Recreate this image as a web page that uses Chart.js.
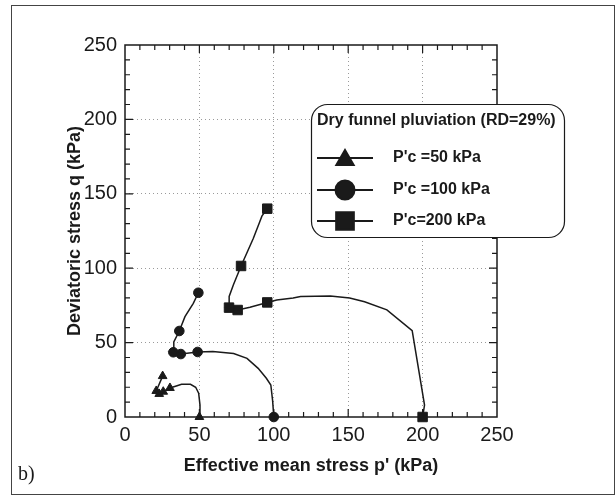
<!DOCTYPE html>
<html>
<head>
<meta charset="utf-8">
<script src="https://cdn.jsdelivr.net/npm/chart.js@4.4.0/dist/chart.umd.min.js"></script>
<style>
  html, body { margin: 0; padding: 0; background: #fff; }
  #wrap { width: 616px; height: 495px; position: relative; }
</style>
</head>
<body>
<div id="wrap"><canvas id="c"></canvas></div>
<script>
'use strict';

// Eksen: p' ve q, ikisi de 0..250 kPa
const AXIS_MIN = 0;
const AXIS_MAX = 250;
const MAJOR_STEP = 50;
const MINOR_STEP = 10;

// P'c = 50 kPa — gerilme yolu (p', q) ve işaretli noktalar
const p50  = [50, 50.4, 49.5, 47.5, 44, 38, 35, 30.2, 25.7, 23, 21, 25.3];
const q50  = [0, 8, 16, 20, 22, 22, 21, 19.5, 17, 15.5, 17.5, 27.5];
const p50m = [50, 30.2, 25.7, 23, 21, 25.3];
const q50m = [0, 19.5, 17, 15.5, 17.5, 27.5];

// P'c = 100 kPa
const p100  = [100, 99.2, 98, 95, 89.5, 82, 73, 59, 48.8, 37.5, 32.5, 32.8, 36.5, 40.3, 45.9, 49.3];
const q100  = [0, 11, 21.5, 26, 32.7, 39.4, 42.7, 44, 43.7, 42.3, 43.5, 50.5, 57.8, 67.4, 76.4, 83.5];
const p100m = [100, 48.8, 37.5, 32.5, 36.5, 49.3];
const q100m = [0, 43.7, 42.3, 43.5, 57.8, 83.5];

// P'c = 200 kPa
const p200  = [200, 201.3, 193, 176, 161, 151, 138, 118, 113, 102, 95.6, 84, 75.7, 69.9, 70, 72.8, 78, 86.2, 90.5, 92, 95.6];
const q200  = [0, 8, 58, 72, 77.5, 80, 81.3, 81, 80, 78.6, 77, 73.7, 71.9, 73.5, 81, 88.7, 101.5, 120, 131, 135, 140];
const p200m = [200, 95.6, 75.7, 69.9, 78, 95.6];
const q200m = [0, 77, 71.9, 73.5, 101.5, 140];

const LEGEND_TITLE = 'Dry funnel pluviation (RD=29%)';
const LABELS = ["P'c =50 kPa", "P'c =100 kPa", "P'c=200 kPa"];

const INK = '#1a1a1a';
const FONT = '"Liberation Sans", Arial, sans-serif';

const pts = (xs, ys) => xs.map((v, i) => ({ x: v, y: ys[i] }));

function pathSet(xs, ys) {
  return {
    data: pts(xs, ys), showLine: true, pointRadius: 0,
    borderColor: INK, borderWidth: 1.5, tension: 0, clip: false,
  };
}
function markSet(xs, ys, style, r) {
  return {
    data: pts(xs, ys), showLine: false, pointStyle: style, pointRadius: r,
    pointHoverRadius: r, backgroundColor: INK, borderColor: INK, borderWidth: 1, clip: false,
  };
}

// Dış çerçeve, iç tikler, "b)" ve yuvarlak köşeli lejant
const decor = {
  id: 'decor',
  beforeDraw(chart) {
    const { ctx } = chart;
    ctx.save();
    ctx.fillStyle = '#fff';
    ctx.fillRect(0, 0, chart.width, chart.height);
    ctx.strokeStyle = '#444';
    ctx.lineWidth = 1;
    ctx.strokeRect(11.5, 5.5, 603, 489);
    ctx.fillStyle = INK;
    ctx.font = '20px "Liberation Serif", "Times New Roman", serif';
    ctx.textBaseline = 'alphabetic';
    ctx.fillText('b)', 18, 480);
    ctx.restore();
  },
  beforeDatasetsDraw(chart) {
    const { ctx, chartArea: a, scales: { x, y } } = chart;
    ctx.save();
    ctx.strokeStyle = INK;
    ctx.lineWidth = 1.5;
    ctx.strokeRect(a.left, a.top, a.right - a.left, a.bottom - a.top);
    ctx.lineWidth = 1.2;
    ctx.beginPath();
    for (let v = AXIS_MIN + MINOR_STEP; v < AXIS_MAX; v += MINOR_STEP) {
      const len = v % MAJOR_STEP === 0 ? 8 : 5;
      const px = x.getPixelForValue(v);
      ctx.moveTo(px, a.bottom); ctx.lineTo(px, a.bottom - len);
      ctx.moveTo(px, a.top);    ctx.lineTo(px, a.top + len);
      const py = y.getPixelForValue(v);
      ctx.moveTo(a.left, py);  ctx.lineTo(a.left + len, py);
      ctx.moveTo(a.right, py); ctx.lineTo(a.right - len, py);
    }
    ctx.stroke();
    ctx.restore();
  },
  afterDraw(chart) {
    const { ctx } = chart;
    ctx.save();
    ctx.beginPath();
    ctx.roundRect(311.5, 104.5, 253, 133, 16);
    ctx.fillStyle = '#fff';
    ctx.fill();
    ctx.strokeStyle = INK;
    ctx.lineWidth = 1.2;
    ctx.stroke();

    ctx.fillStyle = INK;
    ctx.textBaseline = 'middle';
    ctx.font = 'bold 16px ' + FONT;
    ctx.fillText(LEGEND_TITLE, 317, 121);

    const rows = [
      { y: 158, style: 'triangle', r: 10 },
      { y: 190, style: 'circle',   r: 9.5 },
      { y: 221, style: 'rect',     r: 12.5 },
    ];
    rows.forEach((row, i) => {
      ctx.strokeStyle = INK;
      ctx.lineWidth = 2;
      ctx.beginPath();
      ctx.moveTo(317, row.y); ctx.lineTo(373, row.y);
      ctx.stroke();
      ctx.fillStyle = INK;
      Chart.helpers.drawPoint(ctx, { pointStyle: row.style, radius: row.r, rotation: 0, borderWidth: 1 }, 345, row.y + (row.style === 'triangle' ? 2 : 0));
      ctx.fillStyle = INK;
      ctx.fillText(LABELS[i], 393, row.y);
    });
    ctx.restore();
  },
};

const gridColor = c => (c.tick.value === AXIS_MIN || c.tick.value === AXIS_MAX) ? 'rgba(0,0,0,0)' : '#9a9a9a';

new Chart(document.getElementById('c'), {
  type: 'scatter',
  data: {
    datasets: [
      pathSet(p50, q50),   markSet(p50m, q50m, 'triangle', 5),
      pathSet(p100, q100), markSet(p100m, q100m, 'circle', 4.8),
      pathSet(p200, q200), markSet(p200m, q200m, 'rect', 6.7),
    ],
  },
  options: {
    responsive: true,
    maintainAspectRatio: false,
    animation: false,
    devicePixelRatio: 1,
    layout: { padding: { left: 0, right: 119, top: 45, bottom: 0 } },
    plugins: { legend: { display: false }, tooltip: { enabled: false } },
    scales: {
      x: {
        type: 'linear', min: AXIS_MIN, max: AXIS_MAX,
        ticks: { stepSize: MAJOR_STEP, color: INK, font: { family: FONT, size: 20 }, padding: 6 },
        grid: { color: gridColor, lineWidth: 1, drawTicks: false },
        border: { display: false, dash: [1, 3] },
        title: {
          display: true, text: "Effective mean stress p' (kPa)", color: INK,
          font: { family: FONT, size: 18, weight: 'bold' }, padding: { top: 0, bottom: 18 },
        },
        afterFit: s => { s.height = 78; },
      },
      y: {
        type: 'linear', min: AXIS_MIN, max: AXIS_MAX,
        ticks: { stepSize: MAJOR_STEP, color: INK, font: { family: FONT, size: 20 }, padding: 8 },
        grid: { color: gridColor, lineWidth: 1, drawTicks: false },
        border: { display: false, dash: [1, 3] },
        title: {
          display: true, text: 'Deviatoric stress q (kPa)', color: INK,
          font: { family: FONT, size: 18, weight: 'bold' }, padding: { top: 64, bottom: 0 },
        },
        afterFit: s => { s.width = 125; },
      },
    },
  },
  plugins: [decor],
});
</script>
</body>
</html>
